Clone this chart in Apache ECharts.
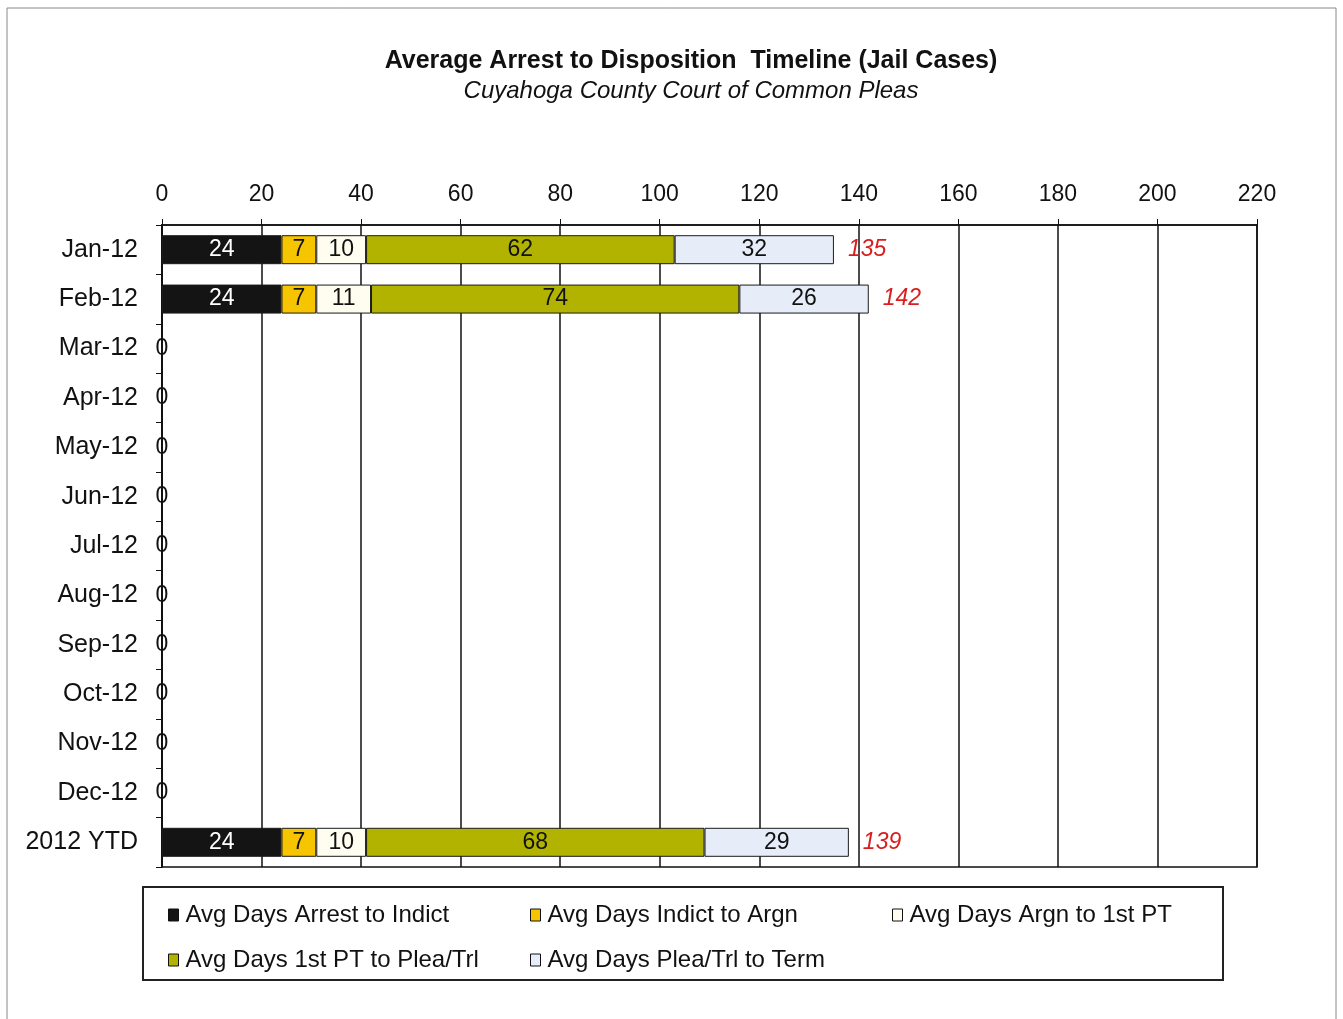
<!DOCTYPE html>
<html>
<head>
<meta charset="utf-8">
<title>Average Arrest to Disposition Timeline</title>
<script src="https://cdn.jsdelivr.net/npm/echarts@6/dist/echarts.min.js"></script>
<style>
  html, body { margin: 0; padding: 0; background: #fff; }
  #chart { width: 1343px; height: 1019px; }
</style>
</head>
<body>
<div id="chart"></div>
<script>
// categories (top to bottom)
var months = ["Jan-12", "Feb-12", "Mar-12", "Apr-12", "May-12", "Jun-12",
  "Jul-12", "Aug-12", "Sep-12", "Oct-12", "Nov-12", "Dec-12", "2012 YTD"];
var xTicks = [0, 20, 40, 60, 80, 100, 120, 140, 160, 180, 200, 220];

// stacked segments, null = no data for month
var arrestToIndict = [24, 24, null, null, null, null, null, null, null, null, null, null, 24];
var indictToArgn   = [7, 7, null, null, null, null, null, null, null, null, null, null, 7];
var argnTo1stPT    = [10, 11, null, null, null, null, null, null, null, null, null, null, 10];
var ptToPleaTrl    = [62, 74, null, null, null, null, null, null, null, null, null, null, 68];
var pleaTrlToTerm  = [32, 26, null, null, null, null, null, null, null, null, null, null, 29];
// totals shown at the bar end
var totals = [135, 142, 0, 0, 0, 0, 0, 0, 0, 0, 0, 0, 139];

var seriesNames = ["Avg Days Arrest to Indict", "Avg Days Indict to Argn",
  "Avg Days Argn to 1st PT", "Avg Days 1st PT to Plea/Trl", "Avg Days Plea/Trl to Term"];
var colors = ["#141414", "#f6c500", "#fffdf0", "#b1b300", "#e6edf8"];
var segs = [arrestToIndict, indictToArgn, argnTo1stPT, ptToPleaTrl, pleaTrlToTerm];

var FONT = "'Liberation Sans', Arial, sans-serif";
var chart = echarts.init(document.getElementById("chart"));

var series = segs.map(function (d, i) {
  return {
    name: seriesNames[i],
    type: "bar",
    stack: "days",
    barWidth: 29,
    data: d,
    itemStyle: { color: colors[i], borderColor: "#1a1a1a", borderWidth: 1 },
    label: {
      show: true,
      position: "inside",
      fontFamily: FONT,
      fontSize: 23,
      color: i == 0 ? "#fff" : "#111"
    }
  };
});

// total labels: invisible zero bar at the end of the stack
series.push({
  name: "Total",
  type: "bar",
  stack: "days",
  barWidth: 29,
  itemStyle: { color: "transparent", borderWidth: 0 },
  data: totals.map(function (t) {
    if (t > 0) {
      return {
        value: 0,
        label: {
          show: true, position: "right", distance: 14, formatter: String(t),
          color: "#d81e1e", fontStyle: "italic", fontSize: 23, fontFamily: FONT
        }
      };
    }
    return {
      value: 0,
      label: {
        show: true, position: "inside", formatter: "0",
        color: "#111", fontSize: 23, fontFamily: FONT
      }
    };
  })
});

var legendPos = [[168, 903], [530, 903], [892, 903], [168, 948], [530, 948]];
var legends = seriesNames.map(function (n, i) {
  return {
    data: [n],
    left: legendPos[i][0],
    top: legendPos[i][1],
    padding: 0,
    icon: "rect",
    itemWidth: 10,
    itemHeight: 12,
    itemGap: 0,
    selectedMode: false,
    itemStyle: { borderColor: "#111", borderWidth: 1 },
    textStyle: { fontFamily: FONT, fontSize: 24, color: "#111", padding: [0, 0, 0, 2] }
  };
});

chart.setOption({
  animation: false,
  backgroundColor: "#fff",
  title: {
    text: "Average Arrest to Disposition  Timeline (Jail Cases)",
    subtext: "Cuyahoga County Court of Common Pleas",
    left: 691,
    top: 49,
    textAlign: "center",
    itemGap: 5,
    padding: 0,
    textStyle: { fontFamily: FONT, fontSize: 25, fontWeight: "bold", color: "#111" },
    subtextStyle: { fontFamily: FONT, fontSize: 24, fontStyle: "italic", color: "#111" }
  },
  graphic: [
    {
      type: "rect", silent: true,
      shape: { x: 7, y: 8, width: 1329, height: 1040 },
      style: { fill: "none", stroke: "#888", lineWidth: 1 }
    },
    {
      type: "rect", silent: true,
      shape: { x: 143, y: 887, width: 1080, height: 93 },
      style: { fill: "none", stroke: "#222", lineWidth: 2 }
    }
  ],
  legend: legends,
  grid: {
    left: 162,
    right: 86,
    top: 225,
    bottom: 152,
    show: true,
    borderColor: "#111",
    borderWidth: 1.5
  },
  xAxis: {
    type: "value",
    position: "top",
    min: xTicks[0],
    max: xTicks[xTicks.length - 1],
    interval: 20,
    axisLine: { show: true, lineStyle: { color: "#111", width: 1.5 } },
    axisTick: { show: true, length: 6, lineStyle: { color: "#111" } },
    axisLabel: { fontFamily: FONT, fontSize: 23, color: "#111", margin: 19 },
    splitLine: { show: true, lineStyle: { color: "#111", width: 1.5 } }
  },
  yAxis: {
    type: "category",
    inverse: true,
    data: months,
    axisLine: { show: true, lineStyle: { color: "#111", width: 2 } },
    axisTick: { show: true, length: 6, lineStyle: { color: "#111" } },
    axisLabel: { fontFamily: FONT, fontSize: 25, color: "#111", margin: 24 }
  },
  series: series
});
</script>
</body>
</html>
